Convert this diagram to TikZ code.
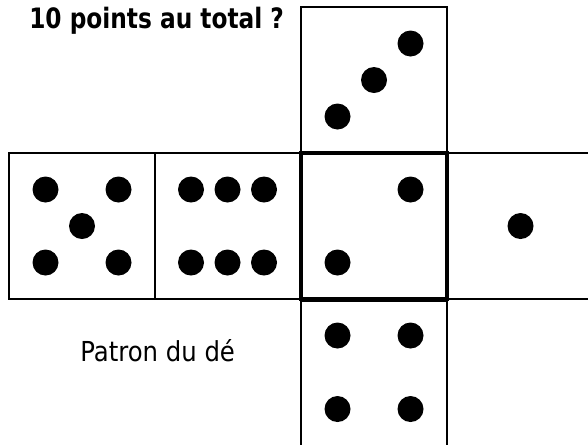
\documentclass[tikz,border=0pt]{standalone}
\usepackage{fontspec}
\setmainfont{DejaVu Sans}
\usepackage{graphicx}
\tikzset{
  face/.style={draw=black,line width=1.5pt,minimum size=109.5pt,inner sep=0pt,outer sep=0pt,shape=rectangle},
  thickface/.style={face,line width=2.3pt},
  pip/.style={circle,fill=black,minimum size=19.5pt,inner sep=0pt},
  lbl/.style={inner sep=0pt,text=black,anchor=base west}
}
\begin{document}
\begin{tikzpicture}[x=0.75pt,y=-0.75pt]
\useasboundingbox (0,0) rectangle (588,444);
\clip (0,0) rectangle (588,444);
\fill[white] (0,0) rectangle (588,444);
% faces
\node[face] (ftop) at (374,80) {};
\node[face] (fleft) at (82,226) {};
\node[face] (fsix) at (228,226) {};
\node[face] (fright) at (520,226) {};
\node[face] (fbot) at (374,374) {};
\node[thickface] (fmid) at (374,226) {};
% top face: three
\node[pip] (t1) at (337.5,116.5) {};
\node[pip] (t2) at (374,80) {};
\node[pip] (t3) at (410.5,43.5) {};
% left face: five
\node[pip] (l1) at (45.5,189.5) {};
\node[pip] (l2) at (118.5,189.5) {};
\node[pip] (l3) at (82,226) {};
\node[pip] (l4) at (45.5,262.5) {};
\node[pip] (l5) at (118.5,262.5) {};
% six
\node[pip] (s1) at (191,189.5) {};
\node[pip] (s2) at (227.5,189.5) {};
\node[pip] (s3) at (264,189.5) {};
\node[pip] (s4) at (191,262.5) {};
\node[pip] (s5) at (227.5,262.5) {};
\node[pip] (s6) at (264,262.5) {};
% middle face: two
\node[pip] (m1) at (410.5,189.5) {};
\node[pip] (m2) at (337.5,262.5) {};
% right face: one
\node[pip] (r1) at (520.5,226) {};
% bottom face: four
\node[pip] (b1) at (337.5,335.5) {};
\node[pip] (b2) at (410.5,335.5) {};
\node[pip] (b3) at (337.5,409) {};
\node[pip] (b4) at (410.5,409) {};
% texts
\node[lbl] (title) at (29,28) {\resizebox{191pt}{16pt}{\bfseries 10 points au total ?}};
\node[lbl] (patron) at (80,361) {\resizebox{116pt}{16.5pt}{Patron du dé}};
\end{tikzpicture}
\end{document}
